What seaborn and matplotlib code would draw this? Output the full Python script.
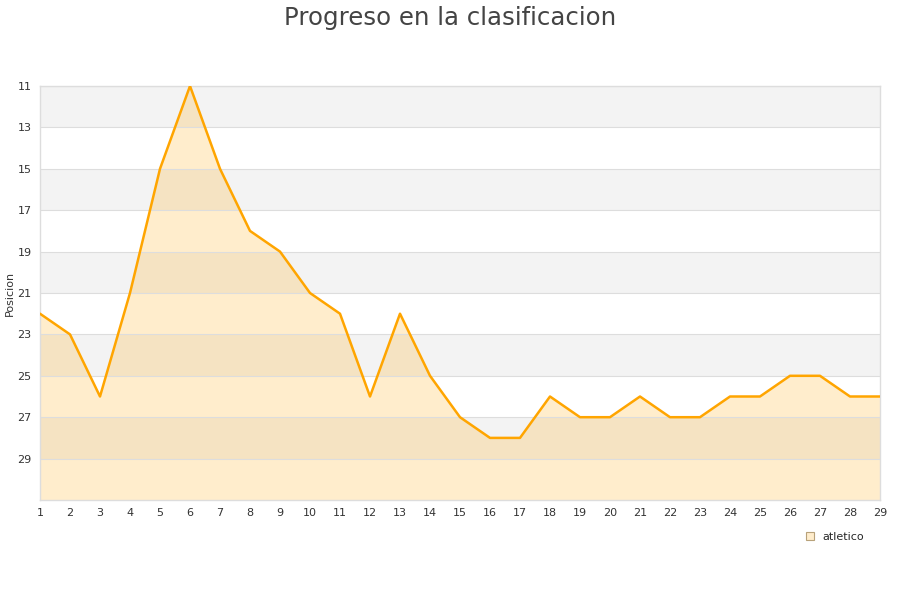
import matplotlib
matplotlib.use("Agg")
import matplotlib.pyplot as plt
import pandas as pd
import seaborn as sns
from matplotlib.patches import Patch

jornadas = list(range(1, 30))
posicion = [22, 23, 26, 21, 15, 11, 15, 18, 19, 21, 22, 26, 22, 25, 27, 28, 28,
            26, 27, 27, 26, 27, 27, 26, 26, 25, 25, 26, 26]
equipo = "atletico"
y_ticks = [11, 13, 15, 17, 19, 21, 23, 25, 27, 29]
y_min, y_max = 11, 31

LINE_COLOR = "#ffa500"

df = pd.DataFrame({"jornada": jornadas, "posicion": posicion})

sns.set_theme(style="white")
plt.rcParams["font.family"] = ["DejaVu Sans"]

fig = plt.figure(figsize=(9, 6), dpi=100)
ax = fig.add_axes([40 / 900, 1 - 500 / 600, 840 / 900, 414 / 600])

# alternating bands
for i, lo in enumerate(range(y_min, y_max, 2)):
    if i % 2 == 0:
        ax.axhspan(lo, lo + 2, color="#f3f3f3", zorder=0, lw=0)

ax.fill_between(df["jornada"], df["posicion"], y_max, color=LINE_COLOR, alpha=0.2,
                zorder=1, lw=0)
sns.lineplot(data=df, x="jornada", y="posicion", color=LINE_COLOR, lw=1.8, ax=ax,
             zorder=3)

ax.set_xlim(1, 29)
ax.set_ylim(y_max, y_min)
ax.set_xticks(jornadas)
ax.set_yticks(y_ticks)
ax.yaxis.grid(True, color="#dddddd", lw=0.8)
ax.set_axisbelow(False)
for gl in ax.get_ygridlines():
    gl.set_zorder(2)
ax.tick_params(axis="both", labelsize=8, labelcolor="#333333", length=0, pad=6)
ax.set_xlabel("")
ax.set_ylabel("Posicion", fontsize=8, color="#333333")
ax.yaxis.set_label_coords(-25 / 840, (500 - 293) / 414)
for s in ax.spines.values():
    s.set_color("#dddddd")
    s.set_linewidth(1)

fig.suptitle("Progreso en la clasificacion", fontsize=17.6, color="#444444", y=0.99)

handle = Patch(facecolor="#ffedcc", edgecolor="#b8a27a", lw=0.8)
fig.legend([handle], [equipo], loc="center", bbox_to_anchor=(835 / 900, 1 - 537 / 600),
           frameon=False, fontsize=8, handlelength=0.7, handleheight=0.7,
           handletextpad=0.8)

fig.savefig("out.png", dpi=100)
